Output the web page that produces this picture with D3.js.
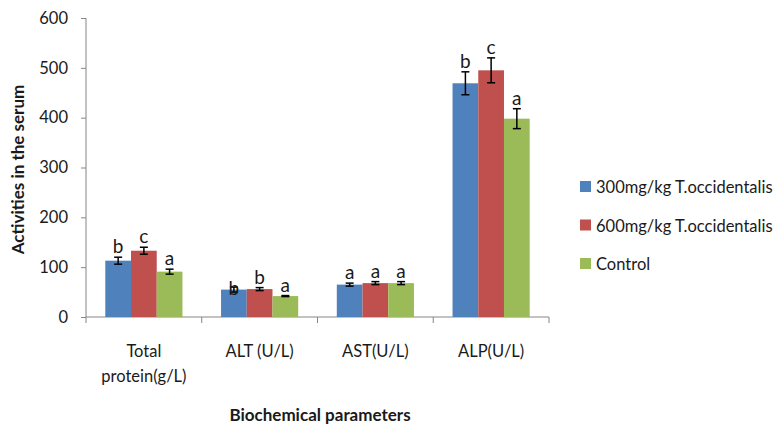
<!DOCTYPE html>
<html><head><meta charset="utf-8">
<script src="https://cdn.jsdelivr.net/npm/d3@7"></script>
<style>body{margin:0;background:#fff}svg{display:block}text{font-family:Lato,"Open Sans",sans-serif}</style>
</head><body><svg id="c" width="780" height="427"></svg>
<script>
const categories = [["Total","protein(g/L)"],["ALT (U/L)"],["AST(U/L)"],["ALP(U/L)"]];
const seriesNames = ["300mg/kg T.occidentalis","600mg/kg T.occidentalis","Control"];
const colors = ["#4f81bd","#c0504d","#9bbb59"];
const values = [
  [113, 55, 65, 469],
  [133, 56, 68, 495],
  [91, 42, 68, 398]
];
const errors = [
  [7, 5, 3, 23],
  [7, 3, 3, 25],
  [5, 1, 3, 20]
];
const letters = [
  ["b","b","a","b"],
  ["c","b","a","c"],
  ["a","a","a","a"]
];
const letterShift = [
  [0, 12, 0, 0],
  [0, 0, 0, 0],
  [0, 0, 0, 0]
];
const yTicks = [0,100,200,300,400,500,600];

const svg = d3.select("#c");
const x0 = 86, x1 = 549, yTop = 18, yBot = 317;
const x = d3.scaleBand().domain(d3.range(categories.length)).range([x0, x1]).paddingInner(0).paddingOuter(0);
const bw = x.bandwidth()/4.5;
const y = d3.scaleLinear().domain([0,600]).range([yBot, yTop]);

// y axis
const ya = svg.append("g").attr("transform",`translate(${x0},0)`).call(d3.axisLeft(y).tickValues(yTicks).tickSize(5).tickPadding(13));
ya.select(".domain").attr("stroke","#868686").attr("d",`M0,${yTop}V${yBot}`);
ya.selectAll(".tick line").attr("stroke","#868686");
ya.selectAll(".tick text").attr("font-size",16.5).attr("fill","#1a1a1a").attr("font-family","Lato,sans-serif");

// x axis
const xg = svg.append("g");
xg.append("line").attr("x1",x0).attr("x2",x1).attr("y1",yBot).attr("y2",yBot).attr("stroke","#868686");
const bounds = d3.range(categories.length+1).map(i => i<categories.length ? x(i) : x1);
xg.selectAll("line.t").data(bounds).join("line").attr("class","t")
  .attr("x1",d=>d).attr("x2",d=>d).attr("y1",yBot).attr("y2",yBot+6).attr("stroke","#868686");
categories.forEach((lines,i)=>{
  const t = xg.append("text").attr("x",x(i)+x.bandwidth()/2).attr("y",357).attr("text-anchor","middle").attr("font-size",16.5).attr("fill","#1a1a1a");
  lines.forEach((l,j)=>t.append("tspan").attr("x",x(i)+x.bandwidth()/2).attr("dy",j?25:0).text(l));
});

// bars
seriesNames.forEach((s,si)=>{
  const g = svg.append("g");
  values[si].forEach((v,ci)=>{
    const bx = x(ci) + 0.75*bw + si*bw;
    g.append("rect").attr("x",bx).attr("width",bw).attr("y",y(v)).attr("height",yBot-y(v)).attr("fill",colors[si]);
    const cx = bx + bw/2, e = errors[si][ci];
    const eb = g.append("g").attr("stroke","#000").attr("stroke-width",1.5);
    eb.append("line").attr("x1",cx).attr("x2",cx).attr("y1",y(v+e)).attr("y2",y(v-e));
    eb.append("line").attr("x1",cx-4).attr("x2",cx+4).attr("y1",y(v+e)).attr("y2",y(v+e));
    eb.append("line").attr("x1",cx-4).attr("x2",cx+4).attr("y1",y(v-e)).attr("y2",y(v-e));
    g.append("text").attr("x",cx).attr("y",y(v+e)-4+letterShift[si][ci]).attr("text-anchor","middle")
      .attr("font-size",19).attr("fill","#1a1a1a").text(letters[si][ci]);
  });
});

// axis titles
svg.append("text").attr("transform",`translate(24,${(72+267)/2}) rotate(-90)`).attr("text-anchor","middle")
  .attr("font-size",17).attr("font-weight","bold").attr("fill","#1a1a1a").text("Activities in the serum");
svg.append("text").attr("x",320).attr("y",421).attr("text-anchor","middle").attr("font-size",17).attr("font-weight","bold").attr("fill","#1a1a1a").text("Biochemical parameters");

// legend
seriesNames.forEach((s,i)=>{
  const ly = 187 + i*38.5;
  svg.append("rect").attr("x",580).attr("y",ly-6).attr("width",11).attr("height",11).attr("fill",colors[i]);
  svg.append("text").attr("x",596).attr("y",ly+6).attr("font-size",16.5).attr("fill","#1a1a1a").text(s);
});
</script></body></html>
